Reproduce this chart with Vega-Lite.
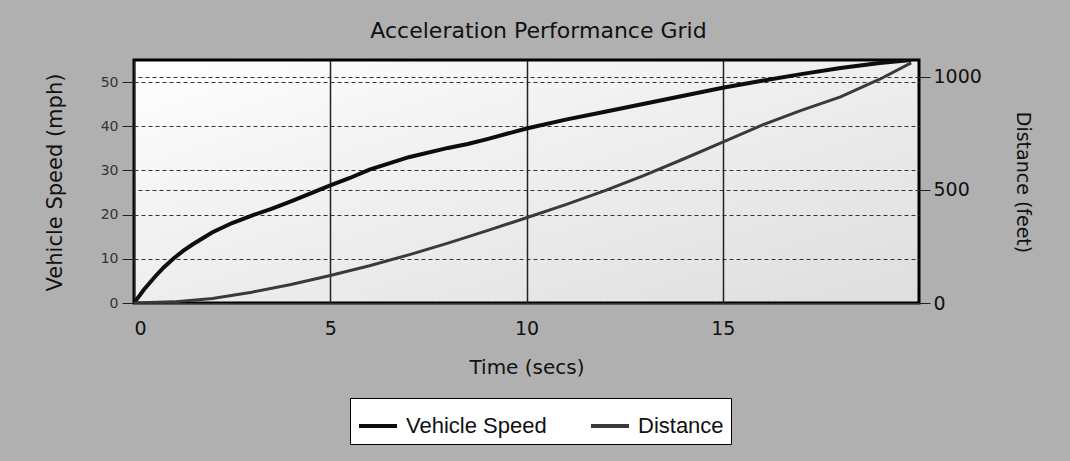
{
  "$schema": "https://vega.github.io/schema/vega-lite/v6.json",
  "width": 785,
  "height": 243,
  "autosize": {"type": "none"},
  "padding": {"left": 134, "top": 60, "right": 151, "bottom": 158},
  "background": "#b0b0b0",
  "title": {
    "text": "Acceleration Performance Grid",
    "font": "DejaVu Sans",
    "fontSize": 22,
    "fontWeight": "normal",
    "color": "#111111",
    "anchor": "middle",
    "dx": 12,
    "offset": 17
  },
  "config": {
    "view": {
      "stroke": "#000000",
      "strokeWidth": 3,
      "fill": {
        "gradient": "linear",
        "x1": 0, "y1": 0, "x2": 1, "y2": 1,
        "stops": [
          {"offset": 0, "color": "#ffffff"},
          {"offset": 0.3, "color": "#f4f4f4"},
          {"offset": 1, "color": "#dedede"}
        ]
      }
    },
    "axis": {
      "labelFont": "DejaVu Sans",
      "titleFont": "DejaVu Sans",
      "labelColor": "#111111",
      "titleColor": "#111111",
      "titleFontWeight": "normal",
      "domain": false
    }
  },
  "datasets": {
    "speed": [
      {"time": 0, "speed": 0},
      {"time": 0.25, "speed": 3},
      {"time": 0.5, "speed": 5.6},
      {"time": 0.75, "speed": 8},
      {"time": 1, "speed": 10},
      {"time": 1.25, "speed": 11.8},
      {"time": 1.5, "speed": 13.3},
      {"time": 2, "speed": 16},
      {"time": 2.5, "speed": 18.1},
      {"time": 3, "speed": 19.8},
      {"time": 3.5, "speed": 21.3},
      {"time": 4, "speed": 23},
      {"time": 4.5, "speed": 24.8},
      {"time": 5, "speed": 26.6},
      {"time": 5.5, "speed": 28.3},
      {"time": 6, "speed": 30.2},
      {"time": 7, "speed": 33},
      {"time": 8, "speed": 35.1},
      {"time": 8.5, "speed": 36},
      {"time": 9, "speed": 37.1},
      {"time": 10, "speed": 39.5},
      {"time": 11, "speed": 41.5},
      {"time": 12, "speed": 43.3},
      {"time": 13, "speed": 45.1},
      {"time": 14, "speed": 46.9},
      {"time": 15, "speed": 48.7},
      {"time": 16, "speed": 50.3},
      {"time": 17, "speed": 51.8},
      {"time": 18, "speed": 53.2},
      {"time": 19, "speed": 54.3},
      {"time": 19.8, "speed": 55}
    ],
    "distance": [
      {"time": 0, "distance": 0},
      {"time": 1, "distance": 5},
      {"time": 2, "distance": 20},
      {"time": 3, "distance": 48},
      {"time": 4, "distance": 82},
      {"time": 5, "distance": 122},
      {"time": 6, "distance": 165},
      {"time": 7, "distance": 213},
      {"time": 8, "distance": 265},
      {"time": 9, "distance": 320},
      {"time": 10, "distance": 377},
      {"time": 11, "distance": 435},
      {"time": 12, "distance": 497},
      {"time": 13, "distance": 565},
      {"time": 14, "distance": 637},
      {"time": 15, "distance": 712},
      {"time": 16, "distance": 787},
      {"time": 17, "distance": 852},
      {"time": 18, "distance": 912},
      {"time": 19, "distance": 990},
      {"time": 19.8, "distance": 1062}
    ]
  },
  "layer": [
    {
      "data": {"name": "speed"},
      "mark": {"type": "line", "strokeWidth": 4, "clip": true},
      "encoding": {
        "x": {
          "field": "time",
          "type": "quantitative",
          "scale": {"domain": [0, 20], "nice": false},
          "axis": {
            "title": "Time (secs)",
            "values": [0, 5, 10, 15],
            "ticks": false,
            "labelPadding": 16,
            "labelFontSize": 19,
            "titleFontSize": 20,
            "titleBaseline": "middle",
            "titleY": 64,
            "grid": true,
            "gridColor": "#222222",
            "gridWidth": 1.5
          }
        },
        "y": {
          "field": "speed",
          "type": "quantitative",
          "scale": {"domain": [0, 55], "nice": false},
          "axis": {
            "title": "Vehicle Speed (mph)",
            "orient": "left",
            "values": [0, 10, 20, 30, 40, 50],
            "tickSize": 12,
            "tickColor": "#222222",
            "labelPadding": 4,
            "labelFontSize": 14,
            "labelColor": "#333333",
            "titleFontSize": 21,
            "titleX": -79,
            "titleY": 122,
            "titleAngle": -90,
            "titleBaseline": "middle",
            "titleAnchor": "middle",
            "grid": true,
            "gridColor": "#333333",
            "gridDash": [4, 3],
            "gridWidth": 1
          }
        },
        "color": {
          "datum": "Vehicle Speed",
          "scale": {"domain": ["Vehicle Speed", "Distance"], "range": ["#0d0d0d", "#3a3a3a"]},
          "legend": {
            "title": null,
            "orient": "none",
            "legendX": 216,
            "legendY": 338,
            "direction": "horizontal",
            "fillColor": "#ffffff",
            "strokeColor": "#000000",
            "padding": 7,
            "symbolType": "stroke",
            "symbolSize": 1444,
            "symbolStrokeWidth": 4,
            "labelFont": "Liberation Sans",
            "labelFontSize": 22,
            "labelColor": "#111111",
            "labelOffset": 7,
            "columnPadding": 36,
            "labelLimit": 300
          }
        }
      }
    },
    {
      "data": {"name": "distance"},
      "mark": {"type": "line", "strokeWidth": 3, "clip": true},
      "encoding": {
        "x": {"field": "time", "type": "quantitative"},
        "y": {
          "field": "distance",
          "type": "quantitative",
          "scale": {"domain": [0, 1075], "nice": false},
          "axis": {
            "title": "Distance (feet)",
            "orient": "right",
            "values": [0, 500, 1000],
            "format": "d",
            "tickSize": 11,
            "tickColor": "#222222",
            "labelPadding": 3,
            "labelFontSize": 19,
            "titleFontSize": 19,
            "titleX": 103,
            "titleY": 122,
            "titleAngle": 90,
            "titleBaseline": "middle",
            "titleAnchor": "middle",
            "grid": true,
            "gridColor": "#333333",
            "gridDash": [4, 3],
            "gridWidth": 1
          }
        },
        "color": {"datum": "Distance"}
      }
    }
  ],
  "resolve": {"scale": {"y": "independent"}}
}
